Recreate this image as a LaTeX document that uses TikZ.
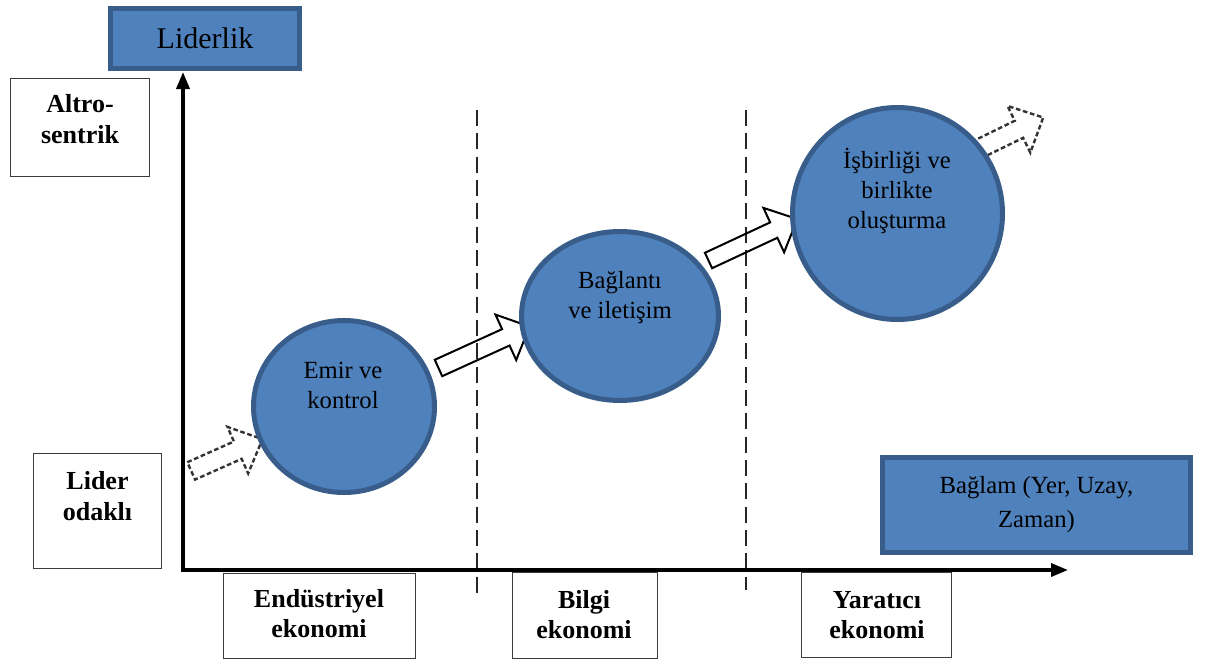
\documentclass[tikz,border=0pt]{standalone}
\usepackage{fontspec}
\setmainfont{Liberation Serif}
\usetikzlibrary{arrows.meta,shapes.geometric}
\definecolor{bfill}{RGB}{79,129,189}
\definecolor{bline}{RGB}{56,93,138}
\definecolor{gline}{RGB}{60,60,60}
\begin{document}
\begin{tikzpicture}[x=0.75pt,y=-0.75pt,
  bluebox/.style={draw=bline, fill=bfill, line width=4.1pt, inner sep=0pt, align=center},
  blueell/.style={ellipse, draw=bline, fill=bfill, line width=3.75pt, inner sep=0pt},
  wbox/.style={draw=gline, fill=white, line width=1.1pt, inner sep=0pt},
  btxt/.style={font=\fontsize{19.5}{23}\selectfont\bfseries, align=center, inner sep=0pt},
  rtxt/.style={font=\fontsize{18.5}{22.5}\selectfont, align=center, inner sep=0pt},
  sepline/.style={draw=black!85, line width=1.5pt, dash pattern=on 12pt off 5.5pt},
  axisline/.style={draw=black, line width=2.6pt, line join=miter},
  dotarrow/.style={draw=black!80, line width=1.8pt, dash pattern=on 3.5pt off 2pt},
  solarrow/.style={draw=black, line width=1.5pt, line join=miter}]
\useasboundingbox (0,0) rectangle (1205,661);

% separators
\coordinate (s1t) at (477,110); \coordinate (s1b) at (477,593);
\coordinate (s2t) at (746,110); \coordinate (s2b) at (746,590);
\draw[sepline] (s1t) -- (s1b);
\draw[sepline] (s2t) -- (s2b);

% axes
\coordinate (O) at (183,570);
\coordinate (ytip) at (183,72);
\coordinate (xtip) at (1068,570);
\draw[axisline, {Triangle[length=12.75pt,width=9.75pt]}-{Triangle[length=12.75pt,width=9.75pt]}] (ytip) -- (O) -- (xtip);

% white boxes
\node[wbox, minimum width=138.5*0.75pt, minimum height=97.5*0.75pt] (altro) at (80,127.5) {};
\node[wbox, minimum width=127.5*0.75pt, minimum height=114.5*0.75pt] (lider) at (97.5,511) {};
\node[wbox, minimum width=191.5*0.75pt, minimum height=84.5*0.75pt] (endus) at (319.5,616) {};
\node[wbox, minimum width=144.5*0.75pt, minimum height=85.5*0.75pt] (bilgi) at (585,615.5) {};
\node[wbox, minimum width=149.5*0.75pt, minimum height=84.5*0.75pt] (yarat) at (876.5,615) {};

\node[btxt] (altrot) at (80,119) {Altro-\\sentrik};
\node[btxt] (lidert) at (97.5,496) {Lider\\odaklı};
\node[btxt] (endust) at (319,613.5) {Endüstriyel\\ekonomi};
\node[btxt] (bilgit) at (584,614.5) {Bilgi\\ekonomi};
\node[btxt] (yaratt) at (877,615) {Yaratıcı\\ekonomi};

% block arrows
\begin{scope}[shift={(191.2,470.9)}, rotate=24]
  \draw[dotarrow] (0,-9.5) -- (51,-9.5) -- (51,-25.5) -- (78,0) -- (51,25.5) -- (51,9.5) -- (0,9.5) -- cycle;
\end{scope}
\begin{scope}[shift={(438.5,368)}, rotate=24.5]
  \draw[solarrow] (0,-9) -- (74,-9) -- (74,-25) -- (100,0) -- (74,25) -- (74,9) -- (0,9) -- cycle;
\end{scope}
\begin{scope}[shift={(708.5,260.5)}, rotate=25]
  \draw[solarrow] (0,-8.5) -- (72,-8.5) -- (72,-24.5) -- (98,0) -- (72,24.5) -- (72,8.5) -- (0,8.5) -- cycle;
\end{scope}
\begin{scope}[shift={(956,160)}, rotate=26]
  \draw[dotarrow] (0,-9.5) -- (70,-9.5) -- (70,-26) -- (97,0) -- (70,26) -- (70,9.5) -- (0,9.5) -- cycle;
\end{scope}

% circles
\node[blueell, minimum width=181*0.75pt, minimum height=172*0.75pt] (emir) at (344,406.5) {};
\node[blueell, minimum width=197*0.75pt, minimum height=169*0.75pt] (baglanti) at (620,316) {};
\node[blueell, minimum width=210*0.75pt, minimum height=212*0.75pt] (isbirligi) at (897.5,213.5) {};

\node[rtxt] (emirt) at (343,385.5) {Emir ve\\kontrol};
\node[rtxt] (baglantit) at (620,298) {Bağlantı\\ve iletişim};
\node[rtxt] (isbirligit) at (897,191) {İşbirliği ve\\birlikte\\oluşturma};

% blue boxes
\node[bluebox, minimum width=188.5*0.75pt, minimum height=59.5*0.75pt, font=\fontsize{22.5}{27}\selectfont] (liderlik) at (205,38.5) {Liderlik};
\node[bluebox, minimum width=307.5*0.75pt, minimum height=94.5*0.75pt, font=\fontsize{18.5}{25.5}\selectfont] (baglam) at (1036.5,505) {Bağlam (Yer, Uzay,\\Zaman)};
\end{tikzpicture}
\end{document}
